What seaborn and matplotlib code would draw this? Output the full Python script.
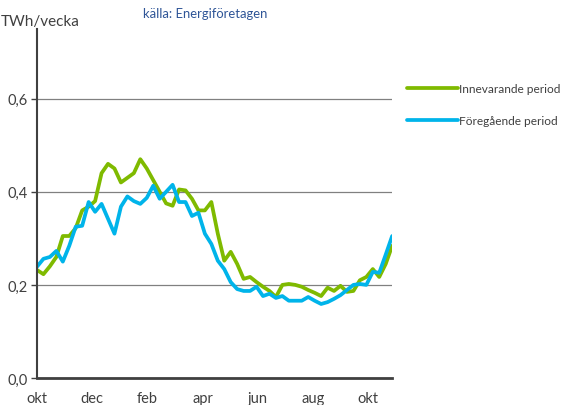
import numpy as np
import pandas as pd
import seaborn as sns
import matplotlib.pyplot as plt

# veckovis elförbrukning, TWh/vecka
innevarande = [0.232, 0.223, 0.240, 0.260, 0.305, 0.305, 0.322, 0.360, 0.368, 0.380,
               0.440, 0.460, 0.450, 0.420, 0.430, 0.440, 0.470, 0.450, 0.425, 0.400,
               0.375, 0.370, 0.405, 0.403, 0.385, 0.360, 0.360, 0.378, 0.310, 0.252,
               0.271, 0.245, 0.213, 0.217, 0.206, 0.196, 0.187, 0.174, 0.200, 0.202,
               0.200, 0.196, 0.189, 0.183, 0.176, 0.194, 0.187, 0.198, 0.185, 0.187,
               0.210, 0.217, 0.234, 0.217, 0.245, 0.284]
foregaende = [0.239, 0.256, 0.260, 0.273, 0.250, 0.284, 0.325, 0.327, 0.378, 0.357,
              0.374, 0.342, 0.310, 0.368, 0.390, 0.380, 0.374, 0.387, 0.413, 0.385,
              0.400, 0.415, 0.378, 0.378, 0.348, 0.355, 0.310, 0.288, 0.252, 0.234,
              0.206, 0.191, 0.187, 0.187, 0.196, 0.176, 0.181, 0.172, 0.176, 0.166,
              0.166, 0.166, 0.174, 0.166, 0.159, 0.163, 0.170, 0.178, 0.189, 0.200,
              0.202, 0.200, 0.228, 0.226, 0.265, 0.305]
manader = ['okt', 'dec', 'feb', 'apr', 'jun', 'aug', 'okt']
serier = ['Innevarande period', 'Föregående period']

vecka = np.arange(len(innevarande))
df = pd.DataFrame({
    'vecka': np.concatenate([vecka, vecka]),
    'TWh': innevarande + foregaende,
    'serie': [serier[0]] * len(innevarande) + [serier[1]] * len(foregaende),
})

sns.set_style('white')
plt.rcParams['font.family'] = ['Lato', 'DejaVu Sans']
gra = '#404040'
farger = ['#7FBA00', '#00B4EA']

fig = plt.figure(figsize=(5.62, 4.06), dpi=100)
ax = fig.add_axes([0.0658, 0.0665, 0.632, 0.86])

sns.lineplot(data=df, x='vecka', y='TWh', hue='serie', hue_order=serier,
             palette=farger, linewidth=2.7, ax=ax, legend=False)

ax.set_xlim(0, len(innevarande) - 1)
ax.set_ylim(0, 0.75)
ax.set_yticks([0, 0.2, 0.4, 0.6])
ax.set_yticklabels(['0,0', '0,2', '0,4', '0,6'], fontsize=10.5, color=gra)
ax.set_xticks(np.linspace(0, 51.3, len(manader)))
ax.set_xticklabels(manader, fontsize=10.5, color=gra)
ax.set_xlabel('')
ax.set_ylabel('')
ax.yaxis.grid(True, color='#808080', linewidth=0.9)
ax.set_axisbelow(True)
ax.tick_params(axis='y', length=4, width=1, color=gra, pad=3, left=True)
ax.tick_params(axis='x', length=0, pad=9)
for s in ['top', 'right']:
    ax.spines[s].set_visible(False)
ax.spines['left'].set_color(gra)
ax.spines['left'].set_linewidth(1.5)
ax.spines['bottom'].set_color(gra)
ax.spines['bottom'].set_linewidth(2)

fig.text(0.002, 0.947, 'TWh/vecka', fontsize=11, color=gra, ha='left', va='center')
fig.text(0.254, 0.966, 'källa: Energiföretagen', fontsize=9.4, color='#2F5597',
         ha='left', va='center')

handles = [plt.Line2D([], [], color=c, linewidth=2.7) for c in farger]
fig.legend(handles, serier, loc='upper left', bbox_to_anchor=(0.724, 0.793),
           frameon=False, fontsize=8.6, handlelength=4.3, handletextpad=0.1,
           labelspacing=1.75, labelcolor=gra, borderaxespad=0, borderpad=0)

fig.savefig('out.png', dpi=100)
